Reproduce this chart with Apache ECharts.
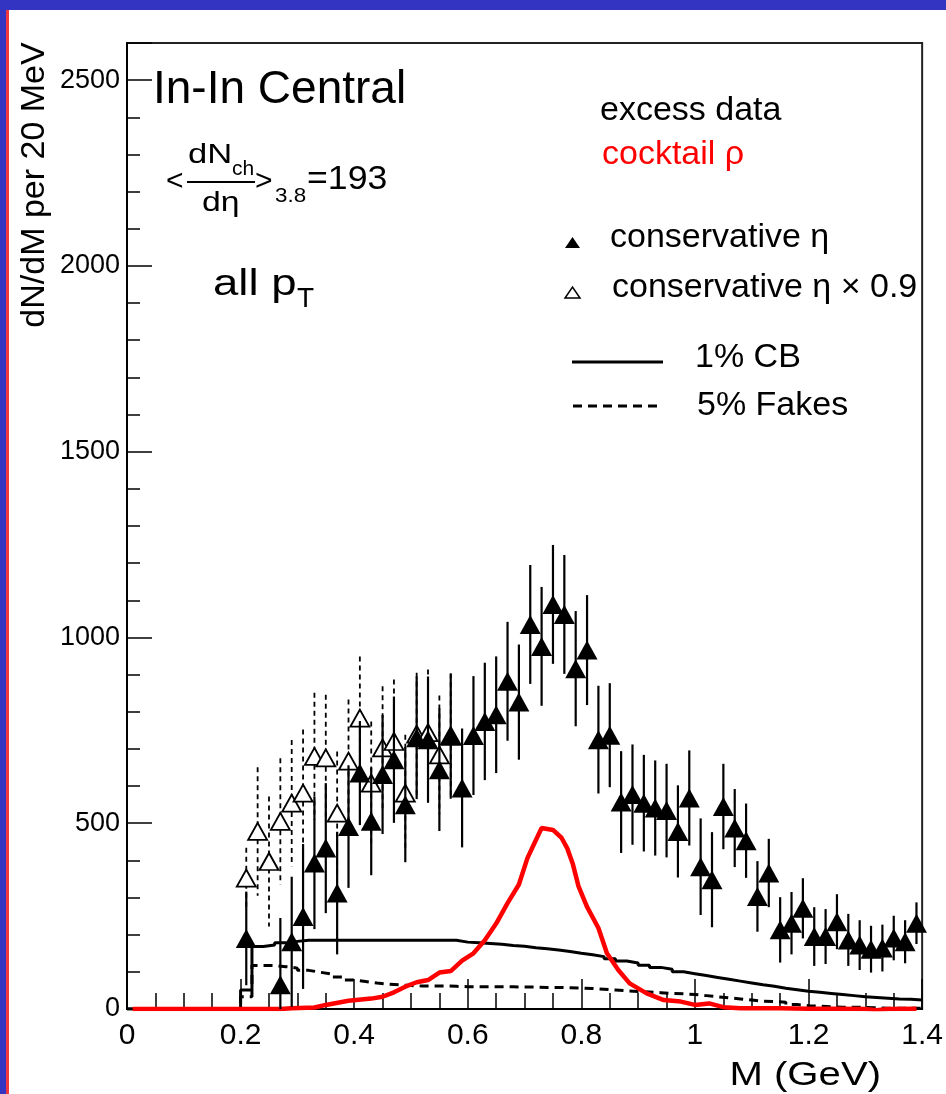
<!DOCTYPE html>
<html>
<head>
<meta charset="utf-8">
<script src="https://cdn.jsdelivr.net/npm/echarts@6/dist/echarts.min.js"></script>
<style>
html,body{margin:0;padding:0;background:#fff;}
#chart{width:946px;height:1094px;}
</style>
</head>
<body>
<div id="chart"></div>
<script>
// ---- data ----
const massCenters = [0.21,0.23,0.25,0.27,0.29,0.31,0.33,0.35,0.37,0.39,
  0.41,0.43,0.45,0.47,0.49,0.51,0.53,0.55,0.57,0.59,
  0.61,0.63,0.65,0.67,0.69,0.71,0.73,0.75,0.77,0.79,
  0.81,0.83,0.85,0.87,0.89,0.91,0.93,0.95,0.97,0.99,
  1.01,1.03,1.05,1.07,1.09,1.11,1.13,1.15,1.17,1.19,
  1.21,1.23,1.25,1.27,1.29,1.31,1.33,1.35,1.37,1.39];
const etaVals = [190,null,null,65,181,249,393,433,312,491,
  635,505,631,671,550,730,725,644,734,595,
  736,774,792,882,826,1035,976,1089,1062,916,
  966,725,737,557,577,554,541,534,478,568,
  383,348,545,487,453,303,366,213,231,271,
  195,195,235,186,172,161,164,191,181,231];
const etaErrs = [126,0,0,180,175,195,178,175,165,165,
  140,145,160,170,155,165,170,165,168,160,
  160,158,157,160,155,160,160,160,160,155,
  148,145,140,137,135,130,128,126,124,128,
  130,128,115,105,100,95,92,88,84,81,
  79,74,74,70,67,63,63,60,58,56];
const openMass = [0.21,0.23,0.25,0.27,0.29,0.31,0.33,0.35,0.37,0.39,
  0.41,0.43,0.45,0.47,0.49,0.51,0.53,0.55,0.57];
const etaScaledVals = [352,478,397,505,554,581,680,676,527,667,
  783,608,703,720,581,740,744,684,736];
const etaScaledErrs = [82,173,175,170,170,171,171,170,166,166,
  166,166,166,167,157,165,170,160,168];
// histogram bins of 20 MeV, value per bin (bin start 0.00 ... 1.38)
const binWidth = 0.02;
const cbVals = [0,0,0,0,0,0,0,0,0,0,
  51,168,172,178,182,185,185,185,185,185,
  185,185,185,185,185,185,185,185,185,180,
  178,176,174,171,169,165,162,159,155,150,
  146,141,135,129,124,118,112,107,100,95,
  90,85,80,75,70,65,61,56,52,48,
  45,42,39,36,33,31,29,27,26,24];
const fakeVals = [0,0,0,0,0,0,0,0,0,0,
  33,117,117,114,110,104,99,94,86,78,
  74,70,67,65,63,62,62,62,61,60,
  60,60,60,60,59,59,58,58,57,56,
  55,53,51,49,47,46,44,42,41,39,
  36,33,30,27,24,21,20,18,12,9,
  8,6,5,5,4,3,2,2,2,2];
const cocktailM = [0.01,0.27,0.29,0.33,0.35,0.39,0.43,0.45,0.47,0.49,
  0.51,0.53,0.55,0.57,0.59,0.61,0.63,0.65,0.67,0.69,
  0.705,0.72,0.73,0.75,0.765,0.775,0.785,0.795,0.81,0.83,
  0.845,0.865,0.885,0.915,0.945,0.975,1.00,1.025,1.05,1.08,
  1.15,1.2,1.25,1.3,1.32,1.34,1.39];
const cocktailVals = [0,0,2,4,11,22,28,33,45,60,
  72,78,98,102,130,150,185,230,285,335,
  406,455,487,482,461,433,390,330,275,218,
  150,105,69,42,24,20,11,15,5,2,
  2,1,1,0,-3,0,1];
const xTicks = {min:0, max:1.4, interval:0.2};
const yTicks = {min:0, max:2600, interval:500, minor:100};

// ---- build ----
const FONT = "'Liberation Sans', Arial, Helvetica, sans-serif";
function histData(vals){
  const d = vals.map((v,i)=>[+(i*binWidth).toFixed(2), v]);
  d.push([+(vals.length*binWidth).toFixed(2), vals[vals.length-1]]);
  return d;
}
const etaData = [], etaErrData = [];
massCenters.forEach((m,i)=>{ if(etaVals[i]!==null){ etaData.push([m,etaVals[i]]); etaErrData.push([m,etaVals[i],etaErrs[i]]);} });
const openData = openMass.map((m,i)=>[m,etaScaledVals[i]]);
const openErrData = openMass.map((m,i)=>[m,etaScaledVals[i],etaScaledErrs[i]]);
const cocktailData = cocktailM.map((m,i)=>[m,cocktailVals[i]]);

function errRender(dash, width){
  return function(params, api){
    const x = api.value(0), y = api.value(1), e = api.value(2);
    const p1 = api.coord([x, y+e]);
    const p2 = api.coord([x, Math.max(0, y-e)]);
    return {type:'line', shape:{x1:p1[0],y1:p1[1],x2:p2[0],y2:p2[1]},
      style:{stroke:'#000', lineWidth:width, lineDash:dash}};
  };
}

const chart = echarts.init(document.getElementById('chart'), null, {renderer:'canvas'});
const txt = (x,y,text,size,opts={}) => Object.assign({type:'text', x, y, z:100,
  scaleX: opts.sx || 1,
  style:{text, fontSize:size, fontFamily:FONT, fill:opts.fill||'#000',
    textAlign:opts.align||'left', textVerticalAlign:'middle'}}, opts.extra||{});

const option = {
  animation:false,
  backgroundColor:'#fff',
  grid:{left:127, right:19, top:43, bottom:85, show:true, borderColor:'#222', borderWidth:2, backgroundColor:'transparent'},
  xAxis:{type:'value', min:xTicks.min, max:xTicks.max, interval:xTicks.interval,
    axisLine:{show:true, onZero:false, lineStyle:{color:'#000', width:2}},
    axisTick:{show:true, inside:true, length:30, lineStyle:{color:'#000', width:1.5}},
    minorTick:{show:true, splitNumber:4, length:16, lineStyle:{color:'#000', width:1.5}},
    splitLine:{show:false}, minorSplitLine:{show:false},
    axisLabel:{fontSize:30, color:'#000', margin:12, fontFamily:FONT}},
  yAxis:[
    {type:'value', min:yTicks.min, max:yTicks.max, interval:yTicks.interval, position:'left',
     axisLine:{show:true, onZero:false, lineStyle:{color:'#000', width:2}},
     axisTick:{show:true, inside:true, length:25, lineStyle:{color:'#000', width:1.5}},
     splitLine:{show:false},
     axisLabel:{fontSize:27, color:'#000', margin:7, fontFamily:FONT,
       formatter:v => (v % yTicks.interval === 0 ? String(v) : '')}},
    {type:'value', min:yTicks.min, max:yTicks.max, interval:yTicks.minor, position:'left',
     axisLine:{show:false}, axisLabel:{show:false}, splitLine:{show:false},
     axisTick:{show:true, inside:true, length:13, lineStyle:{color:'#000', width:1.5}}}
  ],
  series:[
    {name:'1% CB', type:'line', step:'end', data:histData(cbVals), showSymbol:false, z:2,
     lineStyle:{color:'#000', width:3}},
    {name:'5% Fakes', type:'line', step:'end', data:histData(fakeVals), showSymbol:false, z:2,
     lineStyle:{color:'#000', width:3, type:[9,6]}},
    {name:'cocktail rho', type:'line', data:cocktailData, showSymbol:false, z:3,
     lineStyle:{color:'#ff0000', width:4.5}},
    {name:'eta09 err', type:'custom', data:openErrData, renderItem:errRender([5,4],1.8), z:4},
    {name:'conservative eta x 0.9', type:'scatter', data:openData, symbol:'triangle', symbolSize:[19,17], z:5,
     itemStyle:{color:'#fff', borderColor:'#000', borderWidth:1.8, opacity:1}},
    {name:'eta err', type:'custom', data:etaErrData, renderItem:errRender(null,2.2), z:6},
    {name:'conservative eta', type:'scatter', data:etaData, symbol:'triangle', symbolSize:[21,19], z:7,
     itemStyle:{color:'#000', opacity:1}}
  ],
  graphic:[
    {type:'rect', shape:{x:0,y:0,width:946,height:10}, style:{fill:'#3434c2'}, z:100},
    {type:'rect', shape:{x:0,y:0,width:6,height:1094}, style:{fill:'#3434c2'}, z:100},
    {type:'rect', shape:{x:6,y:10,width:3,height:1084}, style:{fill:'#f0383f'}, z:100},
    // axis titles
    txt(35,185,'dN/dM per 20 MeV',34,{align:'center', extra:{rotation:Math.PI/2}}),
    txt(881,1076,'M (GeV)',34,{align:'right', sx:1.18}),
    // annotations
    txt(153,90,'In-In Central',46),
    txt(166,182,'<',30),
    txt(188,156,'dN',27,{sx:1.28}),
    txt(232,169,'ch',21),
    {type:'line', shape:{x1:187,y1:182,x2:255,y2:182}, style:{stroke:'#000', lineWidth:2}, z:100},
    txt(202,204,'dη',27,{sx:1.25}),
    txt(255,182,'>',30),
    txt(275,196,'3.8',20,{sx:1.12}),
    txt(307,180,'=193',33,{sx:1.08}),
    txt(213,285,'all p',37,{sx:1.23}),
    txt(297,299,'T',28),
    // legend
    txt(600,111,'excess data',34),
    txt(602,155,'cocktail ρ',34,{fill:'#ff0000'}),
    {type:'polygon', shape:{points:[[565,248],[580,248],[572.5,237]]}, style:{fill:'#000'}, z:100},
    txt(610,238,'conservative η',34),
    {type:'polygon', shape:{points:[[565,298],[580,298],[572.5,287]]}, style:{fill:'#fff', stroke:'#000', lineWidth:1.5}, z:100},
    txt(612,288,'conservative η × 0.9',34),
    {type:'line', shape:{x1:572,y1:362,x2:663,y2:362}, style:{stroke:'#000', lineWidth:3}, z:100},
    txt(695,358,'1% CB',34),
    {type:'line', shape:{x1:573,y1:406,x2:662,y2:406}, style:{stroke:'#000', lineWidth:3, lineDash:[9,6]}, z:100},
    txt(697,406,'5% Fakes',34)
  ]
};
chart.setOption(option);
</script>
</body>
</html>
